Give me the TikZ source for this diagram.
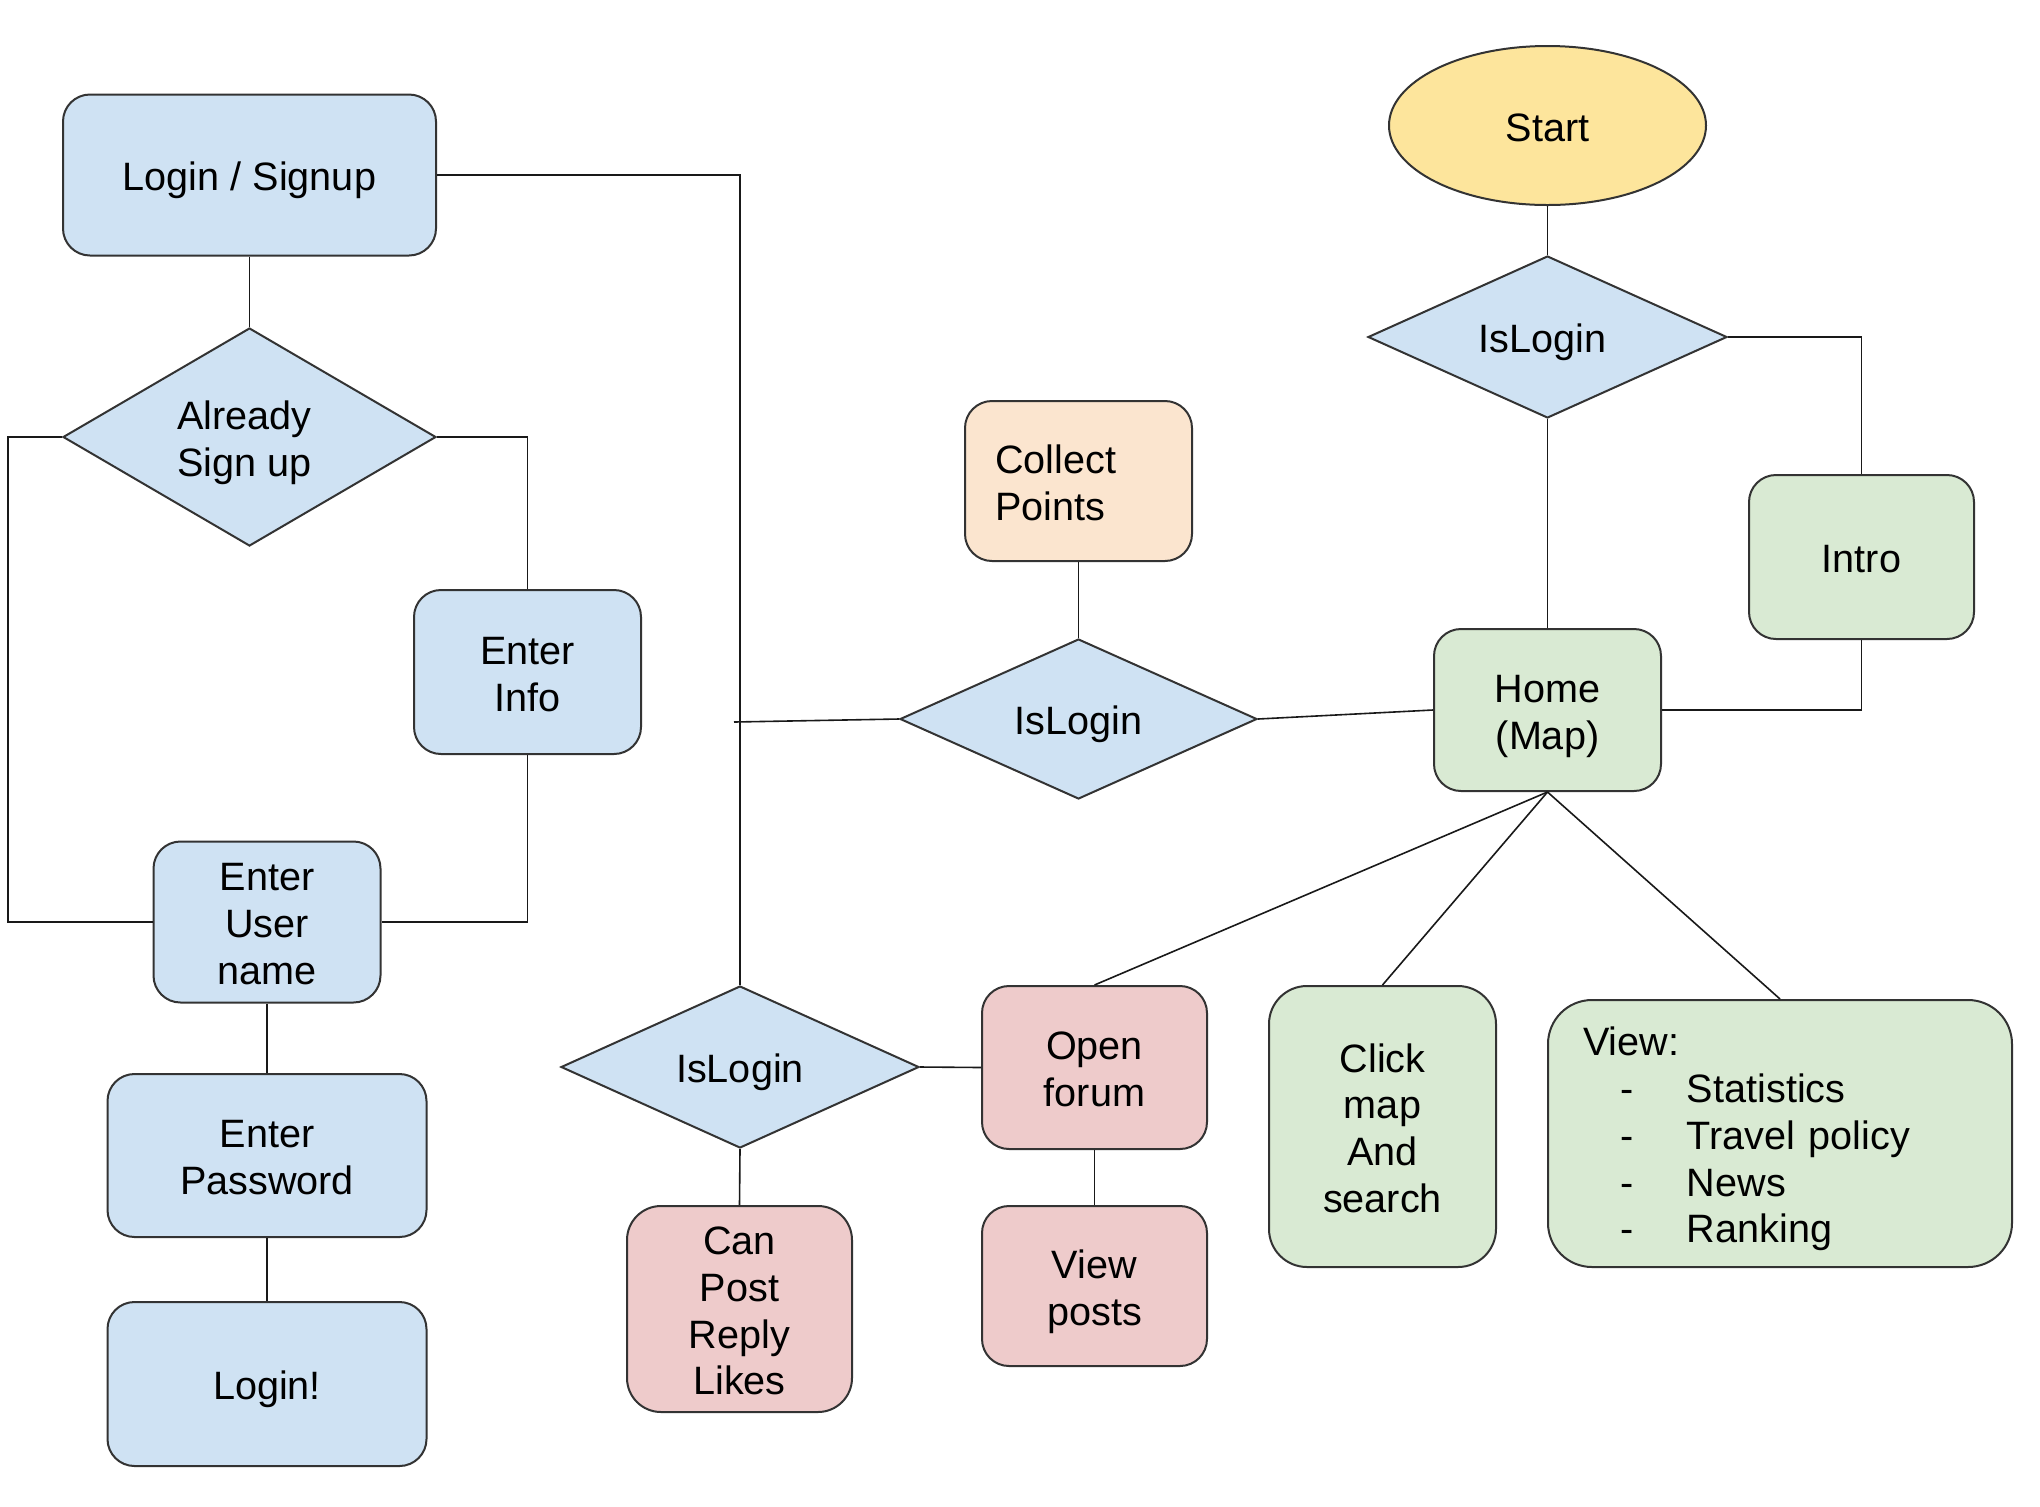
\documentclass[tikz,border=0pt]{standalone}
\usepackage{fontspec}
\setmainfont{Liberation Sans}
\usetikzlibrary{shapes.geometric}
\definecolor{cblue}{HTML}{CFE2F3}
\definecolor{cgreen}{HTML}{D9EAD3}
\definecolor{cred}{HTML}{EECBCB}
\definecolor{corange}{HTML}{FBE5CF}
\definecolor{cyellow}{HTML}{FDE59C}
\definecolor{cline}{HTML}{333333}
\newcommand\dfont{\fontsize{19.8pt}{23.4pt}\selectfont\lineskiplimit=-100pt\relax}
\newcommand\ls{\vrule height 20.5pt depth 4.8pt width 0pt\relax}
\tikzset{
  box/.style={draw=cline, line width=1pt, rounded corners=13.5pt, align=center, inner sep=0pt, font=\dfont},
  bluebox/.style={box, fill=cblue},
  greenbox/.style={box, fill=cgreen},
  redbox/.style={box, fill=cred},
  orangebox/.style={box, fill=corange},
  dia/.style={diamond, draw=cline, line width=1pt, fill=cblue, aspect=2, inner sep=0pt, align=center, font=\dfont},
  startnode/.style={ellipse, draw=cline, line width=1pt, fill=cyellow, inner sep=0pt, font=\dfont},
  conn/.style={draw=black!90, line width=0.8pt},
}
\begin{document}
\begin{tikzpicture}[x=0.5pt,y=-0.5pt]
\useasboundingbox (0,0) rectangle (2040,1506);
\fill[white] (0,0) rectangle (2040,1506);

% left column
\node[bluebox, minimum width=186.5pt, minimum height=80.5pt] (login) at (249.5,175) {\ls Login / Signup};
\node[dia, minimum width=186.5pt, minimum height=109pt] (already) at (249.5,437) {\ls Already\hspace*{5pt}\\\ls Sign up\hspace*{5pt}};
\node[bluebox, minimum width=113.5pt, minimum height=82pt] (info) at (527.5,672) {\ls Enter\\\ls Info};
\node[bluebox, minimum width=113.5pt, minimum height=80.5pt] (user) at (267,922) {\ls Enter\\\ls User\\\ls name};
\node[bluebox, minimum width=159.5pt, minimum height=81.5pt] (pass) at (267,1155.5) {\ls Enter\\\ls Password};
\node[bluebox, minimum width=159.5pt, minimum height=82pt] (loginx) at (267,1384) {\ls Login!};

% middle
\node[dia, minimum width=179pt, minimum height=81pt] (isl3) at (740,1067) {\ls IsLogin};
\node[redbox, rounded corners=17pt, minimum width=112.5pt, minimum height=103pt] (canpost) at (739.5,1309) {\ls Can\\\ls Post\\\ls Reply\\\ls Likes};
\node[redbox, minimum width=112.5pt, minimum height=81.5pt] (open) at (1094.5,1067.5) {\ls Open\\\ls forum};
\node[redbox, minimum width=112.5pt, minimum height=80pt] (vposts) at (1094.5,1286) {\ls View\\\ls posts};
\node[orangebox, minimum width=113.5pt, minimum height=80pt, text width=83.5pt, inner xsep=15pt, align=left] (collect) at (1078.5,481) {\ls Collect\\\ls Points};
\node[dia, minimum width=178.5pt, minimum height=80pt] (isl2) at (1078.5,719) {\ls IsLogin};

% right
\node[startnode, minimum width=158.5pt, minimum height=79.5pt] (start) at (1547.5,125.5) {\ls Start};
\node[dia, minimum width=179.5pt, minimum height=81pt] (isl1) at (1547.5,337) {\ls IsLogin\hspace*{5pt}};
\node[greenbox, minimum width=112.5pt, minimum height=82pt] (intro) at (1861.5,557) {\ls Intro};
\node[greenbox, minimum width=113.5pt, minimum height=81pt] (home) at (1547.5,710) {\ls Home\\\ls (Map)};
\node[greenbox, rounded corners=19pt, minimum width=113.5pt, minimum height=140.5pt] (click) at (1382.5,1126.5) {\ls Click\\\ls map\\\ls And\\\ls search};
\node[greenbox, rounded corners=22pt, minimum width=232pt, minimum height=133.5pt, text width=197pt, inner xsep=17.5pt, align=left] (view) at (1780,1133.5)
  {\ls View:\\
   \ls\hspace*{18.5pt}\makebox[33.5pt][l]{-}Statistics\\
   \ls\hspace*{18.5pt}\makebox[33.5pt][l]{-}Travel policy\\
   \ls\hspace*{18.5pt}\makebox[33.5pt][l]{-}News\\
   \ls\hspace*{18.5pt}\makebox[33.5pt][l]{-}Ranking};

% connectors
\coordinate (lft) at (8,437);
\coordinate (jn) at (734,722);
\draw[conn] (login.east) -| (isl3.north);
\draw[conn] (login.south) -- (already.north);
\draw[conn] (already.west) -- (lft) |- (user.west);
\draw[conn] (already.east) -| (info.north);
\draw[conn] (info.south) |- (user.east);
\draw[conn] (user.south) -- (pass.north);
\draw[conn] (pass.south) -- (loginx.north);
\draw[conn] (jn) -- (isl2.west);
\draw[conn] (isl2.east) -- (home.west);
\draw[conn] (collect.south) -- (isl2.north);
\draw[conn] (start.south) -- (isl1.north);
\draw[conn] (isl1.south) -- (home.north);
\draw[conn] (isl1.east) -| (intro.north);
\draw[conn] (intro.south) |- (home.east);
\draw[conn] (home.south) -- (open.north);
\draw[conn] (home.south) -- (click.north);
\draw[conn] (home.south) -- (view.north);
\draw[conn] (isl3.east) -- (open.west);
\draw[conn] (isl3.south) -- (canpost.north);
\draw[conn] (open.south) -- (vposts.north);
\end{tikzpicture}
\end{document}
